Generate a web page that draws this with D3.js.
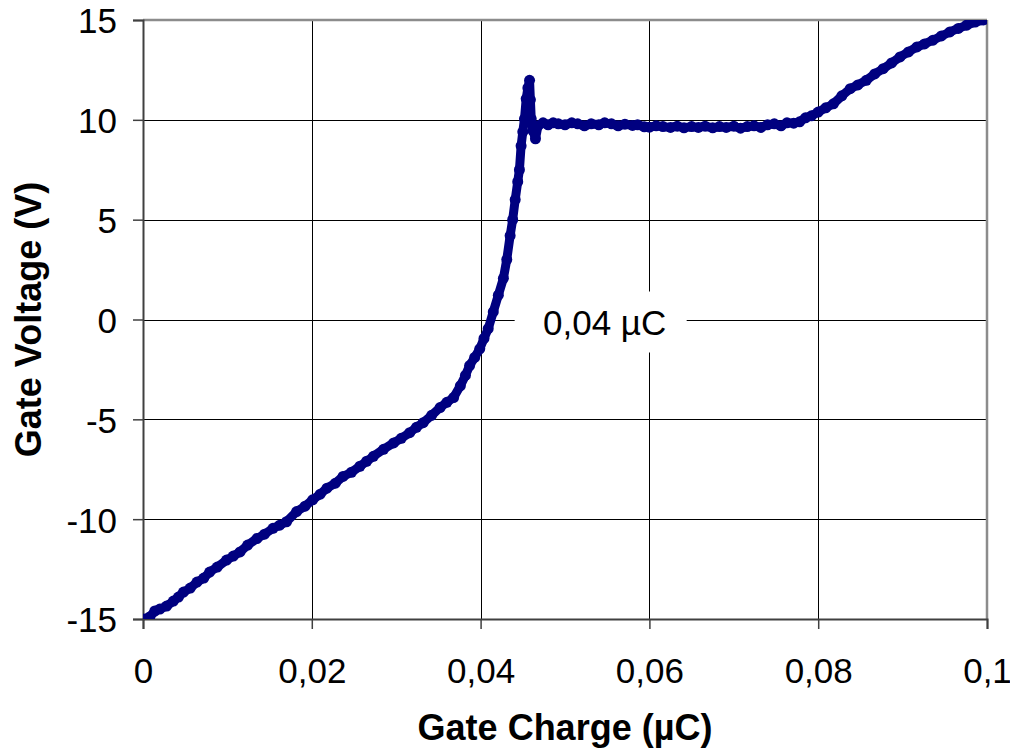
<!DOCTYPE html>
<html lang="en">
<head>
    <meta charset="UTF-8">
    <title>Gate Charge</title>
    <style>
        body {
            margin: 0;
            padding: 0;
            background: #fff;
            font-family: "Liberation Sans", Arial, sans-serif;
        }

        .grid line {
            stroke: #000;
            stroke-width: 1px;
            shape-rendering: crispEdges;
        }

        .tick-label {
            font-size: 35px;
            fill: #000;
        }

        .axis-title {
            font-size: 36px;
            font-weight: bold;
            fill: #000;
        }

        .curve {
            fill: none;
            stroke: #000080;
            stroke-width: 9px;
            stroke-linejoin: round;
        }

        .dot {
            fill: #000080;
        }
    </style>
</head>
<body>
    <svg id="chart" width="1010" height="751"></svg>

    <script src="https://d3js.org/d3.v7.min.js"></script>
    <script>
        // Gate charge in µC and gate voltage in V
        const charge = [
            0.0000, 0.0008, 0.0014, 0.0020, 0.0028, 0.0036, 0.0042, 0.0048, 0.0056, 0.0064,
            0.0072, 0.0079, 0.0088, 0.0099, 0.0107, 0.0115, 0.0124, 0.0135, 0.0144, 0.0154,
            0.0162, 0.0170, 0.0182, 0.0192, 0.0201, 0.0210, 0.0218, 0.0228, 0.0237, 0.0247,
            0.0257, 0.0265, 0.0273, 0.0285, 0.0297, 0.0306, 0.0316, 0.0324, 0.0332, 0.0342,
            0.0352, 0.0360, 0.0368, 0.0376, 0.0382, 0.0387, 0.0393, 0.0399, 0.0404, 0.0409,
            0.0415, 0.0421, 0.0427, 0.0431, 0.0435, 0.0438, 0.0441, 0.0444, 0.0446, 0.0448,
            0.0450, 0.0452, 0.0454, 0.0456, 0.0458, 0.0459, 0.0460, 0.0462, 0.0465, 0.0468,
            0.0474, 0.0480, 0.0486, 0.0492, 0.0500, 0.0508, 0.0515, 0.0523, 0.0531, 0.0540,
            0.0547, 0.0555, 0.0563, 0.0571, 0.0580, 0.0586, 0.0594, 0.0600, 0.0608, 0.0616,
            0.0625, 0.0633, 0.0641, 0.0650, 0.0658, 0.0666, 0.0675, 0.0683, 0.0691, 0.0700,
            0.0708, 0.0716, 0.0724, 0.0732, 0.0740, 0.0748, 0.0756, 0.0763, 0.0771, 0.0778,
            0.0785, 0.0792, 0.0800, 0.0809, 0.0818, 0.0828, 0.0838, 0.0847, 0.0857, 0.0867,
            0.0877, 0.0887, 0.0897, 0.0907, 0.0917, 0.0926, 0.0936, 0.0946, 0.0956, 0.0966,
            0.0976, 0.0986, 0.0996
        ];
        const voltage = [
            -15.0, -14.9, -14.6, -14.5, -14.35, -14.1, -13.9, -13.65, -13.45, -13.15,
            -12.95, -12.65, -12.4, -12.05, -11.85, -11.64, -11.3, -10.97, -10.75, -10.46,
            -10.3, -10.13, -9.62, -9.35, -9.03, -8.75, -8.45, -8.2, -7.86, -7.65,
            -7.35, -7.1, -6.85, -6.5, -6.18, -5.95, -5.67, -5.4, -5.17, -4.8,
            -4.41, -4.15, -3.91, -3.32, -2.8, -2.31, -1.9, -1.47, -0.95, -0.46,
            0.38, 1.22, 2.06, 3.0, 4.2, 5.0, 6.0, 6.9, 7.5, 8.7,
            9.4, 10.05, 11.05, 11.6, 11.98, 11.0, 10.05, 9.46, 9.05, 9.7,
            9.85, 9.75, 9.85, 9.8, 9.75, 9.85, 9.8, 9.7, 9.8, 9.75,
            9.85, 9.8, 9.7, 9.78, 9.72, 9.75, 9.65, 9.63, 9.7, 9.66,
            9.62, 9.68, 9.6, 9.66, 9.62, 9.68, 9.6, 9.66, 9.62, 9.68,
            9.58, 9.66, 9.7, 9.62, 9.75, 9.8, 9.7, 9.85, 9.83, 9.9,
            10.1, 10.2, 10.39, 10.6, 10.8, 11.2, 11.56, 11.75, 11.98, 12.3,
            12.56, 12.85, 13.15, 13.4, 13.65, 13.8, 13.99, 14.2, 14.4, 14.58,
            14.74, 14.9, 15.0
        ];

        const xTicks = [0, 0.02, 0.04, 0.06, 0.08, 0.1];
        const xTickLabels = ["0", "0,02", "0,04", "0,06", "0,08", "0,1"];
        const yTicks = [-15, -10, -5, 0, 5, 10, 15];
        const yTickLabels = ["-15", "-10", "-5", "0", "5", "10", "15"];

        // annotation in the middle of the chart
        const noteText = "0,04 µC";
        const notePos = [0.0547, -0.15];

        const data = charge.map((q, i) => ({ q: q, v: voltage[i] }));

        const margin = { top: 20, right: 23, bottom: 132, left: 143 };
        const width = 1010 - margin.left - margin.right;
        const height = 751 - margin.top - margin.bottom;

        const svg = d3.select("#chart");
        const g = svg.append("g")
            .attr("transform", "translate(" + margin.left + "," + margin.top + ")");

        const x = d3.scaleLinear().domain([0, 0.1]).range([0, width]);
        const y = d3.scaleLinear().domain([-15, 15]).range([height, 0]);

        // gridlines
        const grid = g.append("g").attr("class", "grid");
        grid.selectAll(".vgrid")
            .data(xTicks.slice(1, -1))
            .enter().append("line")
            .attr("x1", d => Math.round(x(d)) + 0.5)
            .attr("x2", d => Math.round(x(d)) + 0.5)
            .attr("y1", 0)
            .attr("y2", height);
        grid.selectAll(".hgrid")
            .data(yTicks.slice(1, -1))
            .enter().append("line")
            .attr("y1", d => Math.round(y(d)) + 0.5)
            .attr("y2", d => Math.round(y(d)) + 0.5)
            .attr("x1", 0)
            .attr("x2", width);

        // white box behind the annotation
        g.append("rect")
            .attr("x", x(notePos[0]) - 90)
            .attr("y", y(notePos[1]) - 31)
            .attr("width", 172)
            .attr("height", 61)
            .attr("fill", "#fff");

        g.append("text")
            .attr("class", "tick-label")
            .attr("x", x(notePos[0]))
            .attr("y", y(notePos[1]))
            .attr("dy", "0.36em")
            .attr("text-anchor", "middle")
            .text(noteText);

        // frame: top and right grey, left and bottom axes darker
        g.append("line")
            .attr("x1", 0).attr("x2", width).attr("y1", 0).attr("y2", 0)
            .attr("stroke", "#8c8c8c").attr("stroke-width", 2.5);
        g.append("line")
            .attr("x1", width).attr("x2", width).attr("y1", 0).attr("y2", height)
            .attr("stroke", "#8c8c8c").attr("stroke-width", 2.5);

        // axes
        const xAxis = d3.axisBottom(x)
            .tickValues(xTicks)
            .tickFormat((d, i) => xTickLabels[i])
            .tickSize(10)
            .tickPadding(0);
        const xg = g.append("g")
            .attr("transform", "translate(0," + height + ")")
            .call(xAxis);
        xg.select(".domain").attr("stroke", "#404040").attr("stroke-width", 2);
        xg.selectAll(".tick line").attr("stroke", "#404040").attr("stroke-width", 1.5);
        xg.selectAll(".tick text")
            .attr("class", "tick-label")
            .attr("font-family", null)
            .attr("font-size", null)
            .attr("dy", null)
            .attr("y", 64);

        const yAxis = d3.axisLeft(y)
            .tickValues(yTicks)
            .tickFormat((d, i) => yTickLabels[i])
            .tickSize(10)
            .tickPadding(16);
        const yg = g.append("g").call(yAxis);
        yg.select(".domain").attr("stroke", "#404040").attr("stroke-width", 2);
        yg.selectAll(".tick line").attr("stroke", "#404040").attr("stroke-width", 1.5);
        yg.selectAll(".tick text")
            .attr("class", "tick-label")
            .attr("font-family", null)
            .attr("font-size", null)
            .attr("dy", "0.37em");

        // measured curve, clipped to the plot area
        g.append("clipPath")
            .attr("id", "plot-clip")
            .append("rect")
            .attr("width", width)
            .attr("height", height);

        const series = g.append("g").attr("clip-path", "url(#plot-clip)");

        const line = d3.line()
            .x(d => x(d.q))
            .y(d => y(d.v));

        series.append("path")
            .datum(data)
            .attr("class", "curve")
            .attr("d", line);

        series.selectAll(".dot")
            .data(data)
            .enter().append("circle")
            .attr("class", "dot")
            .attr("cx", d => x(d.q))
            .attr("cy", d => y(d.v))
            .attr("r", 5.5);

        // axis titles
        svg.append("text")
            .attr("class", "axis-title")
            .attr("x", margin.left + width / 2)
            .attr("y", 740)
            .attr("text-anchor", "middle")
            .text("Gate Charge (µC)");

        svg.append("text")
            .attr("class", "axis-title")
            .attr("transform", "translate(41," + (margin.top + height / 2) + ") rotate(-90)")
            .attr("text-anchor", "middle")
            .text("Gate Voltage (V)");
    </script>
</body>
</html>
